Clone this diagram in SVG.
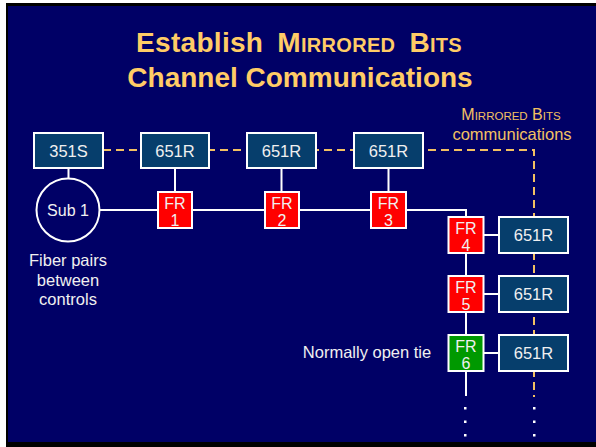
<svg xmlns="http://www.w3.org/2000/svg" width="596" height="447" viewBox="0 0 596 447">
<style>
.t{font-family:"Liberation Sans",Arial,sans-serif;fill:#F0F0F0;text-anchor:middle}
.box{fill:#063E6C;stroke:#FFFFFF;stroke-width:2}
.fr{fill:#FF0000;stroke:#FFFFFF;stroke-width:2}
.frg{fill:#009900;stroke:#FFFFFF;stroke-width:2}
.ln{fill:none;stroke:#FFFFFF;stroke-width:2}
.dash{fill:none;stroke:#F2C062;stroke-width:2;stroke-dasharray:8 5}
.title{font-family:"Liberation Sans",Arial,sans-serif;font-weight:bold;fill:#FFCC66;text-anchor:middle;font-size:28px}
.lbl{font-family:"Liberation Sans",Arial,sans-serif;fill:#F2C062;text-anchor:middle}
.sq{fill:#FFFFFF}
</style>
<rect x="0" y="0" width="596" height="447" fill="#FFFFFF"/>
<rect x="6" y="3" width="590" height="444" fill="#000000"/>
<rect x="8" y="6" width="588" height="436" fill="#000066"/>
<text class="title" x="299" y="52" word-spacing="6" letter-spacing="0.3">Establish M<tspan font-size="20">IRRORED</tspan> B<tspan font-size="20">ITS</tspan></text>
<text class="title" x="300" y="87">Channel Communications</text>
<text class="lbl" x="511" y="120" font-size="16">M<tspan font-size="11.5">IRRORED</tspan> B<tspan font-size="11.5">ITS</tspan></text>
<text class="lbl" x="512" y="140" font-size="16.5">communications</text>
<g id="connectors">
<path class="dash" d="M103 150 H534 V397"/>
<path class="ln" d="M99.5 210 H466 V396"/>
<path class="ln" d="M68.5 168 V178.5 M175 168 V192 M281.5 168 V192 M388.5 168 V192 M483 235 H499 M483 294 H499 M483 353 H499"/>
</g>
<g id="dots">
<rect class="sq" x="464" y="407" width="2.5" height="2.5"/>
<rect class="sq" x="464" y="420.5" width="2.5" height="2.5"/>
<rect class="sq" x="464" y="434" width="2.5" height="2.5"/>
<rect class="sq" x="533" y="407" width="2.5" height="2.5"/>
<rect class="sq" x="533" y="420.5" width="2.5" height="2.5"/>
<rect class="sq" x="533" y="434" width="2.5" height="2.5"/>
</g>
<g id="sub1">
<circle cx="68" cy="210" r="31.5" fill="#000066" stroke="#FFFFFF" stroke-width="2"/>
<text class="t" x="68" y="216" font-size="16">Sub 1</text>
</g>
<g id="fiberlabel">
<text class="t" x="68" y="266" font-size="16.5">Fiber pairs</text>
<text class="t" x="68" y="286" font-size="16.5">between</text>
<text class="t" x="68" y="305" font-size="16.5">controls</text>
</g>
<g id="tielabel">
<text class="t" x="367" y="358" font-size="16.5">Normally open tie</text>
</g>
<g id="r351S"><rect class="box" x="34" y="133" width="69" height="35"/><text class="t" x="68.5" y="156.5" font-size="16.5">351S</text></g>
<g id="r651R1"><rect class="box" x="141" y="133" width="68" height="35"/><text class="t" x="175" y="156.5" font-size="16.5">651R</text></g>
<g id="r651R2"><rect class="box" x="247" y="133" width="69" height="35"/><text class="t" x="281.5" y="156.5" font-size="16.5">651R</text></g>
<g id="r651R3"><rect class="box" x="354" y="133" width="69" height="35"/><text class="t" x="388.5" y="156.5" font-size="16.5">651R</text></g>
<g id="r651R4"><rect class="box" x="499" y="217" width="69" height="36"/><text class="t" x="533.5" y="241" font-size="16.5">651R</text></g>
<g id="r651R5"><rect class="box" x="499" y="276" width="69" height="36"/><text class="t" x="533.5" y="300" font-size="16.5">651R</text></g>
<g id="r651R6"><rect class="box" x="499" y="335" width="69" height="36"/><text class="t" x="533.5" y="359" font-size="16.5">651R</text></g>
<g id="fr1"><rect class="fr" x="158" y="192" width="34" height="36"/><text class="t" x="175" y="208.5" font-size="16">FR</text><text class="t" x="175" y="225.5" font-size="16">1</text></g>
<g id="fr2"><rect class="fr" x="265" y="192" width="34" height="36"/><text class="t" x="282" y="208.5" font-size="16">FR</text><text class="t" x="282" y="225.5" font-size="16">2</text></g>
<g id="fr3"><rect class="fr" x="371" y="192" width="35" height="36"/><text class="t" x="388.5" y="208.5" font-size="16">FR</text><text class="t" x="388.5" y="225.5" font-size="16">3</text></g>
<g id="fr4"><rect class="fr" x="448.5" y="217" width="35" height="36"/><text class="t" x="466" y="233.5" font-size="16">FR</text><text class="t" x="466" y="250.5" font-size="16">4</text></g>
<g id="fr5"><rect class="fr" x="448.5" y="276" width="35" height="36"/><text class="t" x="466" y="292.5" font-size="16">FR</text><text class="t" x="466" y="309.5" font-size="16">5</text></g>
<g id="fr6"><rect class="frg" x="448.5" y="335" width="35" height="36"/><text class="t" x="466" y="351.5" font-size="16">FR</text><text class="t" x="466" y="368.5" font-size="16">6</text></g>
</svg>
